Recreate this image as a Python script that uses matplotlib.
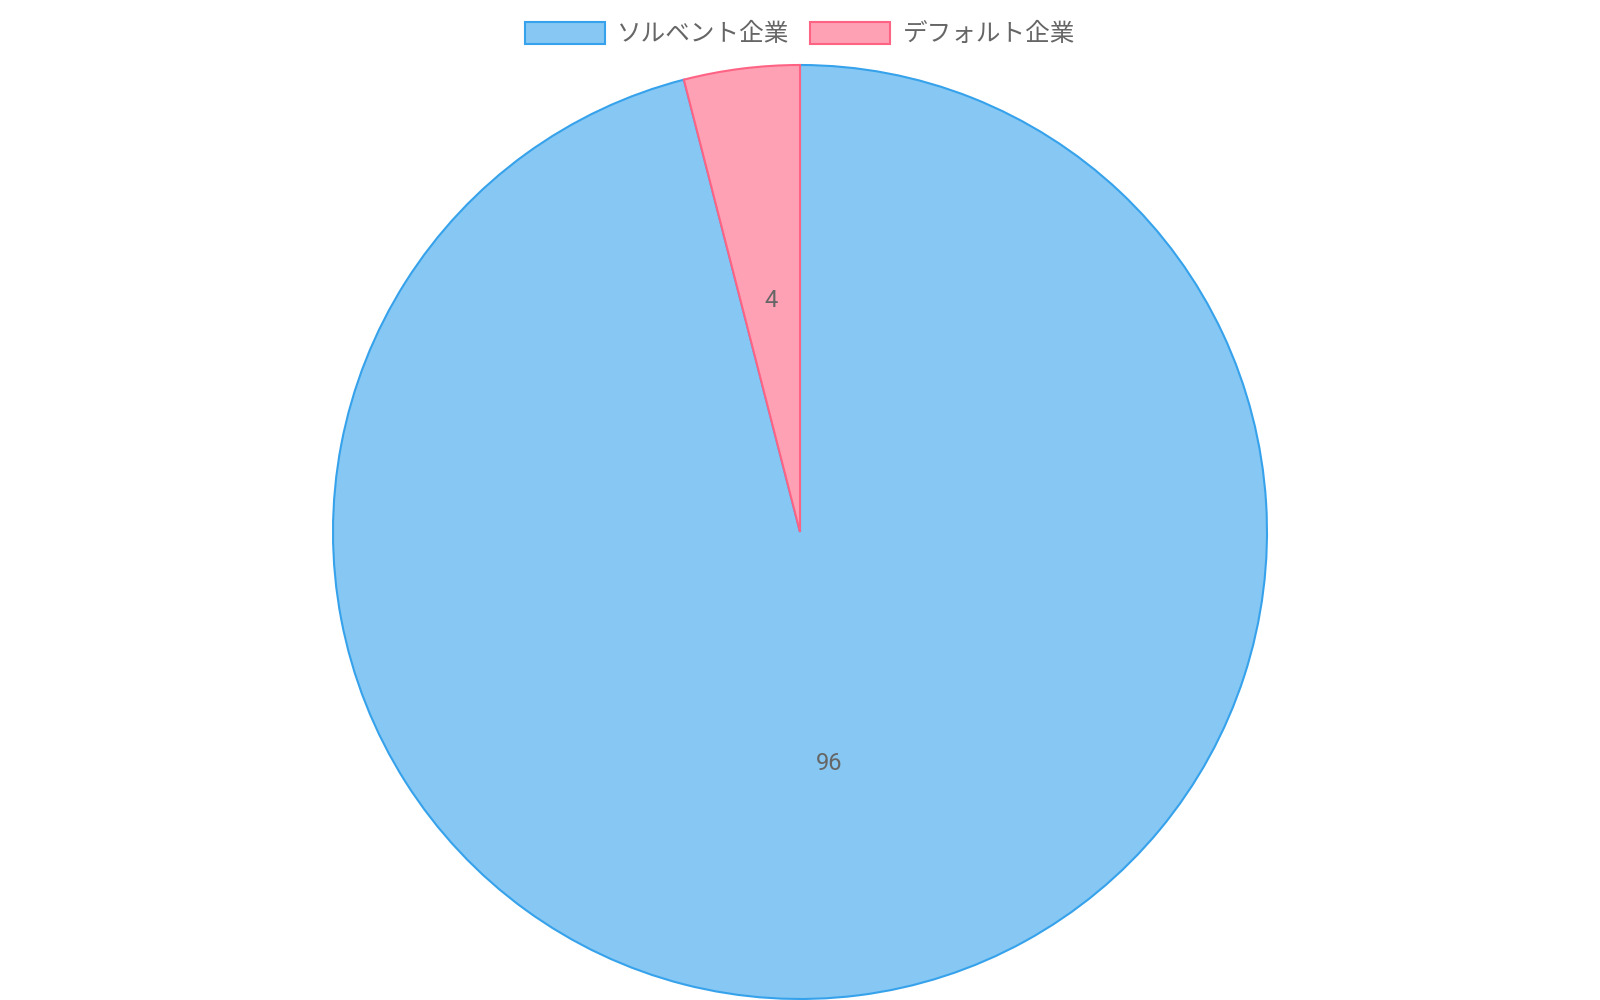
import matplotlib
matplotlib.use("Agg")
import matplotlib.pyplot as plt
from matplotlib.patches import Patch

categories = ["ソルベント企業", "デフォルト企業"]
values = [96, 4]
fill_colors = ["#86C7F3", "#FFA1B5"]
edge_colors = ["#36A2EB", "#FF6384"]

plt.rcParams['font.family'] = ['Roboto', 'Noto Sans CJK JP', 'DejaVu Sans']

fig = plt.figure(figsize=(16, 10), dpi=100)
cx, cy, r = 800, 532, 467
ax = fig.add_axes([(cx - r) / 1600, (1000 - cy - r) / 1000, 2 * r / 1600, 2 * r / 1000])

wedges, texts = ax.pie(values, labels=[str(v) for v in values], colors=fill_colors,
                       startangle=90, counterclock=False, labeldistance=0.5,
                       wedgeprops=dict(linewidth=1.5))
for w, ec in zip(wedges, edge_colors):
    w.set_edgecolor(ec)
for t in texts:
    t.set_color("#666666")
    t.set_fontsize(17)
    t.set_ha("center")
    t.set_va("center")
ax.set_xlim(-1.0, 1.0)
ax.set_ylim(-1.0, 1.0)
ax.set_aspect("equal")
ax.axis("off")

handles = [Patch(facecolor=fc, edgecolor=ec, linewidth=1.5) for fc, ec in zip(fill_colors, edge_colors)]
leg = fig.legend(handles, categories, loc="center", bbox_to_anchor=(0.5, 0.966),
                 ncol=2, frameon=False, fontsize=17.7, handlelength=3.25, handleheight=1.0,
                 handletextpad=0.5, columnspacing=0.85)
for t in leg.get_texts():
    t.set_color("#666666")

fig.savefig("out.png", dpi=100)
